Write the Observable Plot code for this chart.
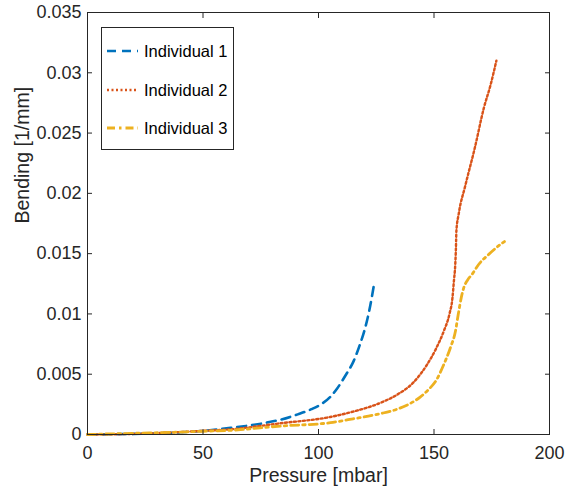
<!DOCTYPE html>
<html><head><meta charset="utf-8">
<script src="https://cdn.jsdelivr.net/npm/d3@7"></script>
<script src="https://cdn.jsdelivr.net/npm/@observablehq/plot@0.6"></script>
<style>
body{margin:0;background:#fff;}
#wrap{position:relative;width:565px;height:496px;}
#legend{position:absolute;left:101px;top:27px;width:131px;height:121px;border:1px solid #262626;background:#fff;font-family:"Liberation Sans",Arial,sans-serif;font-size:16.5px;color:#000;}
.item{position:absolute;left:0;height:20px;display:flex;align-items:center;white-space:nowrap;}
.item svg{margin-left:5px;margin-right:6px;}
</style></head><body><div id="wrap"></div>
<script>
const seriesNames = ["Individual 1", "Individual 2", "Individual 3"];
const pressure1 = [0, 10, 20, 30, 40, 50, 62, 76, 84, 91, 97, 101, 105, 108, 112, 115, 118, 120, 122, 124];
const bending1  = [0, 0.00002, 0.00005, 0.0001, 0.00018, 0.0003, 0.00055, 0.00093, 0.00125, 0.00167, 0.0021, 0.0025, 0.0031, 0.0038, 0.005, 0.006, 0.0075, 0.0087, 0.0103, 0.0124];
const pressure2 = [0, 20, 40, 50, 62, 83.5, 105, 115, 127, 134, 141, 147, 151.1, 154.3, 156.7, 158, 158.6, 159.2, 159.5, 159.7, 160.7, 163.5, 167.7, 171.6, 174.5, 177];
const bending2  = [0, 0.00005, 0.0002, 0.0003, 0.00043, 0.00093, 0.00145, 0.0019, 0.00264, 0.0033, 0.0043, 0.0058, 0.0072, 0.0086, 0.01, 0.01135, 0.0127, 0.0141, 0.0155, 0.0169, 0.0183, 0.0206, 0.0238, 0.0271, 0.029, 0.031];
const pressure3 = [0, 20, 40, 50, 61.9, 83.5, 105.2, 115, 126.8, 134, 139, 144, 147.5, 151, 154, 157.1, 159.3, 160.5, 161.8, 162.9, 164.5, 166.5, 169.4, 173.7, 178.8, 180.5];
const bending3  = [0, 0.0001, 0.0002, 0.00027, 0.00035, 0.0007, 0.00098, 0.0013, 0.00173, 0.0021, 0.0025, 0.0031, 0.0037, 0.0045, 0.0057, 0.0072, 0.00858, 0.00997, 0.01135, 0.01218, 0.0128, 0.01329, 0.01412, 0.01494, 0.01577, 0.016];
const xTicks = [0, 50, 100, 150, 200];
const yTicks = [0, 0.005, 0.01, 0.015, 0.02, 0.025, 0.03, 0.035];
const yTickLabels = ["0", "0.005", "0.01", "0.015", "0.02", "0.025", "0.03", "0.035"];
const xLabel = "Pressure [mbar]";
const yLabel = "Bending [1/mm]";

const styles = [
  {color: "#0072BD", dash: "9,6", width: 2.6},
  {color: "#D95319", dash: "2,2.5", width: 2.4},
  {color: "#EDB120", dash: "8,4,2.5,4", width: 2.8}
];
const seriesData = [[pressure1, bending1], [pressure2, bending2], [pressure3, bending3]]
  .map(([px, by], i) => px.map((p, j) => ({series: seriesNames[i], pressure: p, bending: by[j]})));

const ink = "#262626";
const chart = Plot.plot({
  width: 565, height: 496,
  marginLeft: 87, marginRight: 16, marginTop: 12, marginBottom: 62,
  style: {fontFamily: "'Liberation Sans', Arial, sans-serif", fontSize: "18px", color: ink, background: "white"},
  x: {domain: [0, 200]},
  y: {domain: [0, 0.035]},
  marks: [
    ...seriesData.map((d, i) => Plot.line(d, {x: "pressure", y: "bending", stroke: styles[i].color, strokeWidth: styles[i].width, strokeDasharray: styles[i].dash, curve: "monotone-x"})),
    Plot.frame({stroke: ink, strokeWidth: 1}),
    Plot.axisX(xTicks, {anchor: "bottom", tickSize: 0, tickPadding: 12, fontSize: 18, label: null, fill: ink}),
    Plot.axisX(xTicks, {anchor: "bottom", tickSize: -5, text: null, label: null, stroke: ink}),
    Plot.axisX(xTicks, {anchor: "top", tickSize: -5, text: null, label: null, stroke: ink}),
    Plot.axisY(yTicks, {anchor: "left", tickSize: 0, tickPadding: 6, fontSize: 18, label: null, fill: ink, tickFormat: d => yTickLabels[yTicks.indexOf(d)]}),
    Plot.axisY(yTicks, {anchor: "left", tickSize: -5, text: null, label: null, stroke: ink}),
    Plot.axisY(yTicks, {anchor: "right", tickSize: -5, text: null, label: null, stroke: ink}),
    Plot.text([xLabel], {frameAnchor: "bottom", dy: 47, text: d => d, fontSize: 19.5, fill: ink}),
    Plot.text([yLabel], {frameAnchor: "left", dx: -65, rotate: -90, text: d => d, fontSize: 19.5, fill: ink})
  ]
});
const wrap = document.getElementById("wrap");
wrap.appendChild(chart);

const legend = document.createElement("div");
legend.id = "legend";
const centers = [23, 62, 100];
seriesNames.forEach((name, i) => {
  const item = document.createElement("div");
  item.className = "item";
  item.style.top = (centers[i] - 10) + "px";
  item.innerHTML = `<svg width="31" height="6"><line x1="0" y1="3" x2="31" y2="3" stroke="${styles[i].color}" stroke-width="${styles[i].width}" stroke-dasharray="${styles[i].dash}"/></svg><span>${name}</span>`;
  legend.appendChild(item);
});
wrap.appendChild(legend);
</script>
</body></html>
